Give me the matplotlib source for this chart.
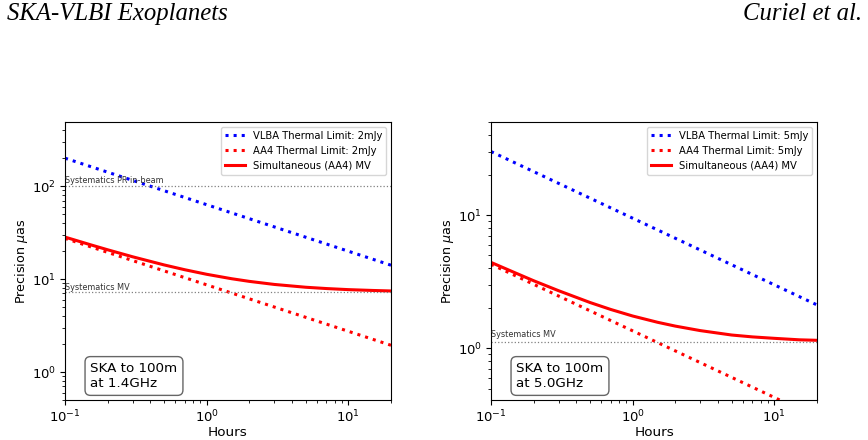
import matplotlib
matplotlib.use("Agg")
import matplotlib.pyplot as plt

# ---- data ----
hours_ends = [0.1, 20]
vlba_1p4 = [200, 14.1]
aa4_1p4 = [27.4, 1.94]
sys_pr_1p4 = 100
sys_mv_1p4 = 7.2

hours_sim = [0.1, 0.15, 0.2, 0.3, 0.5, 0.7, 1, 1.5, 2, 3, 5, 7, 10, 15, 20]
sim_1p4 = [28.3, 23.5, 20.67, 17.38, 14.21, 12.61, 11.26, 10.09, 9.45, 8.76, 8.17, 7.91, 7.70, 7.54, 7.45]

vlba_5p0 = [30, 2.12]
aa4_5p0 = [4.28, 0.303]
sys_mv_5p0 = 1.11
sim_5p0 = [4.42, 3.67, 3.22, 2.71, 2.21, 1.96, 1.75, 1.57, 1.47, 1.36, 1.26, 1.22, 1.19, 1.16, 1.15]

W, H = 868, 440
fig = plt.figure(figsize=(W / 100, H / 100), dpi=100)

def panel(x0, flux, vlba, aa4, sim, systs, ylim, label, tfac):
    ax = fig.add_axes([x0 / W, 40 / H, 326 / W, 278 / H])
    ax.plot(hours_ends, vlba, ':', color='blue', lw=2.2, label=f'VLBA Thermal Limit: {flux}')
    ax.plot(hours_ends, aa4, ':', color='red', lw=2.2, label=f'AA4 Thermal Limit: {flux}')
    ax.plot(hours_sim, sim, '-', color='red', lw=2.2, label='Simultaneous (AA4) MV')
    for val, name in systs:
        ax.axhline(val, color='gray', ls=':', lw=0.9)
        ax.text(0.1, val * tfac, name, fontsize=5.9, color='#333333', va='baseline', ha='left')
    ax.set_xscale('log')
    ax.set_yscale('log')
    ax.set_xlim(0.1, 20)
    ax.set_ylim(*ylim)
    ax.set_xlabel('Hours', fontsize=9.7, labelpad=0)
    ax.set_ylabel(r'Precision $\mu$as', fontsize=9.2, labelpad=1.5)
    ax.tick_params(labelsize=9.5, pad=3)
    ax.legend(loc='upper right', fontsize=7.2)
    ax.text(0.078, 0.036, label, transform=ax.transAxes, fontsize=9.7, va='bottom', ha='left',
            bbox=dict(boxstyle='round,pad=0.4', fc='white', ec='#666666'))
    return ax

panel(65, '2mJy', vlba_1p4, aa4_1p4, sim_1p4,
      [(sys_pr_1p4, 'Systematics PR in-beam'), (sys_mv_1p4, 'Systematics MV')],
      (0.5, 490), 'SKA to 100m\nat 1.4GHz', 1.07)
panel(491, '5mJy', vlba_5p0, aa4_5p0, sim_5p0,
      [(sys_mv_5p0, 'Systematics MV')],
      (0.41, 50), 'SKA to 100m\nat 5.0GHz', 1.1)

fig.text(7 / W, 1 - 20 / H, 'SKA-VLBI Exoplanets', family='Liberation Serif', style='italic',
         fontsize=17.8, ha='left', va='baseline')
fig.text(862 / W, 1 - 20 / H, 'Curiel et al.', family='Liberation Serif', style='italic',
         fontsize=17.8, ha='right', va='baseline')

fig.savefig('out.png', dpi=100)
